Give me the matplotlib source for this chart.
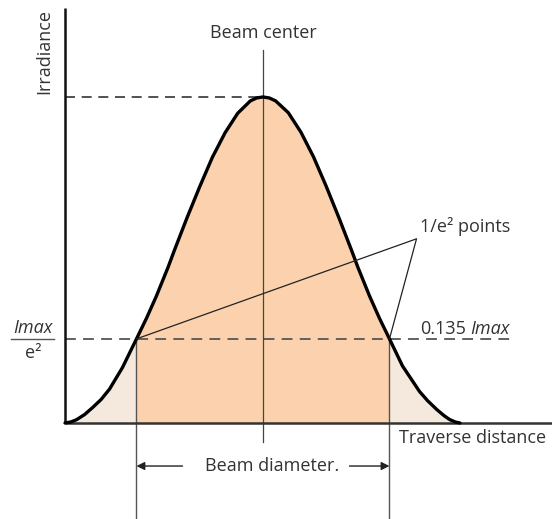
import matplotlib
matplotlib.use("Agg")
import matplotlib.pyplot as plt

plt.rcParams['font.family'] = ['Open Sans', 'DejaVu Sans']

# Beam profile (x in units of beam radius, y relative to peak)
curve_x = [-1.565, -1.52, -1.474, -1.41, -1.348, -1.28, -1.213, -1.111, -1.0,
           -0.92, -0.842, -0.75, -0.70, -0.60, -0.50, -0.40, -0.30, -0.20,
           -0.10, -0.05, 0.0, 0.05, 0.10, 0.20, 0.30, 0.40, 0.50, 0.60, 0.70,
           0.75, 0.842, 0.92, 1.0, 1.103, 1.237, 1.30, 1.372, 1.43, 1.474,
           1.52, 1.557]
curve_y = [0.0, 0.003, 0.010, 0.026, 0.047, 0.072, 0.104, 0.170, 0.258,
           0.322, 0.390, 0.478, 0.530, 0.630, 0.725, 0.815, 0.890, 0.950,
           0.988, 0.997, 1.0, 0.997, 0.988, 0.952, 0.892, 0.816, 0.726, 0.630,
           0.530, 0.478, 0.390, 0.322, 0.258, 0.175, 0.097, 0.069, 0.042,
           0.023, 0.011, 0.003, 0.0]

peak_level = 1.0
e2_level = 0.258          # drawn height of the 1/e^2 line
e2_points = [-1.0, 1.0]   # beam diameter edges
axis_left = -1.565
axis_right = 2.29

fig = plt.figure(figsize=(5.52, 5.19), dpi=100)
ax = fig.add_axes([0, 0, 1, 1])
ax.set_xlim(-2.079, 2.285)
ax.set_ylim(-0.2945, 1.2975)
ax.axis('off')

light = '#f5e8dc'
peach = '#fbd2ad'
gray = '#333333'
fs = 13

# fills
ax.fill_between(curve_x, 0, curve_y, color=light, lw=0, zorder=1)
inner = [(x, y) for x, y in zip(curve_x, curve_y) if e2_points[0] <= x <= e2_points[1]]
ax.fill_between([p[0] for p in inner], 0, [p[1] for p in inner],
                color=peach, lw=0, zorder=2)

# axes
ax.plot([axis_left, axis_left], [0, 1.273], color='#111111', lw=1.8, zorder=5,
        solid_capstyle='butt')
ax.plot([axis_left, axis_right], [0, 0], color='#333333', lw=1.8, zorder=5,
        solid_capstyle='butt')

# curve
ax.plot(curve_x, curve_y, color='black', lw=2.4, zorder=6, solid_capstyle='round',
        solid_joinstyle='round')

# dashed guide lines
ax.plot([axis_left, 0], [peak_level, peak_level], color=gray, lw=1.2,
        dashes=(6, 4), zorder=4)
ax.plot([axis_left, 1.964], [e2_level, e2_level], color='#555555', lw=1.3,
        dashes=(6, 4), zorder=4)

# beam center line
ax.plot([0, 0], [-0.058, 1.144], color='#444444', lw=0.9, zorder=4)
ax.text(0, 1.196, 'Beam center', ha='center', va='center', fontsize=fs, color=gray)

# verticals at 1/e^2 points
for xp in e2_points:
    ax.plot([xp, xp], [-0.30, e2_level], color='#555555', lw=1.0, zorder=4)

# 1/e^2 pointer lines
apex = (1.214, 0.565)
ax.plot([e2_points[0], apex[0], e2_points[1]], [e2_level, apex[1], e2_level],
        color='#222222', lw=0.9, zorder=7)
ax.text(1.245, 0.604, '1/e² points', ha='left', va='center', fontsize=fs, color=gray)

ax.text(1.609, 0.288, '0.135', ha='right', va='center', fontsize=fs, color=gray)
ax.text(1.640, 0.288, 'Imax', ha='left', va='center', fontsize=fs, color=gray,
        style='italic')

# Imax / e^2 label
ax.plot([-1.99, -1.65], [e2_level, e2_level], color='#555555', lw=1.0)
ax.text(-1.82, 0.292, 'Imax', ha='center', va='center', fontsize=fs, color=gray,
        style='italic')
ax.text(-1.82, 0.215, 'e²', ha='center', va='center', fontsize=fs, color=gray)

# axis titles
ax.text(-1.727, 1.138, 'Irradiance', rotation=90, ha='center', va='center',
        fontsize=fs, color=gray)
ax.text(1.656, -0.046, 'Traverse distance', ha='center', va='center',
        fontsize=fs, color=gray)

# beam diameter arrows
ax.annotate('', xy=(e2_points[0], -0.132), xytext=(-0.636, -0.132),
            arrowprops=dict(arrowstyle='-|>', color='#222222', lw=1.0,
                            mutation_scale=12, shrinkA=0, shrinkB=0))
ax.annotate('', xy=(e2_points[1], -0.132), xytext=(0.684, -0.132),
            arrowprops=dict(arrowstyle='-|>', color='#222222', lw=1.0,
                            mutation_scale=12, shrinkA=0, shrinkB=0))
ax.text(0.075, -0.132, 'Beam diameter.', ha='center', va='center', fontsize=fs,
        color=gray)

fig.savefig('out.png', dpi=100)
